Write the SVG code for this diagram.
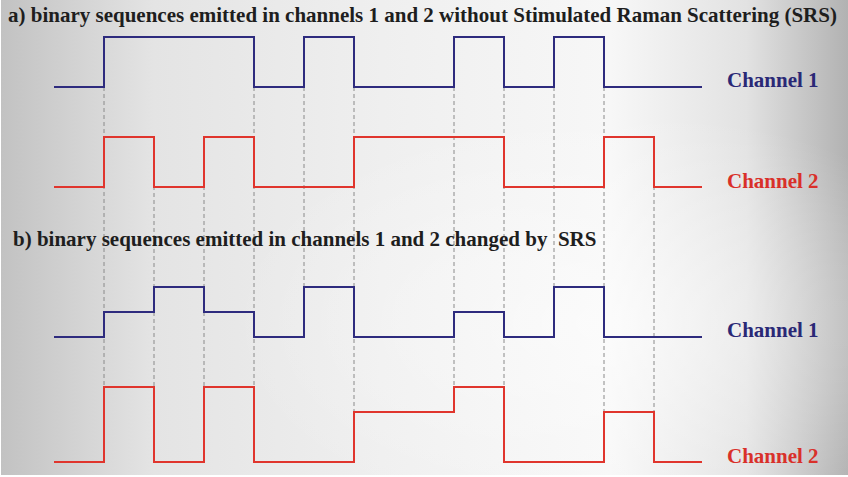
<svg xmlns="http://www.w3.org/2000/svg" width="848" height="477" viewBox="0 0 848 477">
  <defs>
    <linearGradient id="bg" x1="0" y1="0" x2="1" y2="0">
      <stop offset="0" stop-color="#c2c2c2"/>
      <stop offset="0.18" stop-color="#e4e4e4"/>
      <stop offset="0.45" stop-color="#efefef"/>
      <stop offset="0.72" stop-color="#f7f7f7"/>
      <stop offset="0.88" stop-color="#e2e2e2"/>
      <stop offset="1" stop-color="#b2b2b2"/>
    </linearGradient>
    <radialGradient id="glow" cx="0.72" cy="0.68" r="0.45">
      <stop offset="0" stop-color="#ffffff" stop-opacity="0.55"/>
      <stop offset="1" stop-color="#ffffff" stop-opacity="0"/>
    </radialGradient>
    <style>
      .title { font-family: "Liberation Serif", "Times New Roman", serif; font-weight: bold; font-size: 21px; fill: #1e1e1e; }
      .label { font-family: "Liberation Serif", "Times New Roman", serif; font-weight: bold; font-size: 21px; }
      .ch1 { fill: none; stroke: #2e2b7e; stroke-width: 2; }
      .ch2 { fill: none; stroke: #e0352d; stroke-width: 2; }
      .guide { stroke: #8a8a8a; stroke-width: 1; stroke-dasharray: 4 3; fill: none; }
      .lbl1 { fill: #2a2876; }
      .lbl2 { fill: #d9302a; }
    </style>
  </defs>

  <!-- background panel -->
  <rect x="0" y="0" width="848" height="477" fill="#ffffff"/>
  <rect x="1" y="0" width="847" height="475" fill="url(#bg)"/>
  <rect x="1" y="0" width="847" height="475" fill="url(#glow)"/>

  <!-- vertical timing guides at bit boundaries -->
  <g id="guides" class="guide">
    <line x1="104" y1="87" x2="104" y2="387"/>
    <line x1="154" y1="137" x2="154" y2="387"/>
    <line x1="204" y1="137" x2="204" y2="387"/>
    <line x1="254" y1="87" x2="254" y2="387"/>
    <line x1="304" y1="87" x2="304" y2="287"/>
    <line x1="354" y1="87" x2="354" y2="412"/>
    <line x1="454" y1="87" x2="454" y2="387"/>
    <line x1="504" y1="87" x2="504" y2="387"/>
    <line x1="554" y1="87" x2="554" y2="287"/>
    <line x1="604" y1="87" x2="604" y2="412"/>
    <line x1="654" y1="137" x2="654" y2="412"/>
  </g>

  <!-- a) sequences without SRS -->
  <text class="title" x="8" y="22">a) binary sequences emitted in channels 1 and 2 without Stimulated Raman Scattering (SRS)</text>
  <g id="a-channel1">
    <path class="ch1" d="M54,87 H104 V37 H254 V87 H304 V37 H354 V87 H454 V37 H504 V87 H554 V37 H604 V87 H702"/>
    <text class="label lbl1" x="727" y="87">Channel 1</text>
  </g>
  <g id="a-channel2">
    <path class="ch2" d="M54,187 H104 V137 H154 V187 H204 V137 H254 V187 H354 V137 H504 V187 H604 V137 H654 V187 H702"/>
    <text class="label lbl2" x="727" y="188">Channel 2</text>
  </g>

  <!-- b) sequences changed by SRS -->
  <text class="title" x="13" y="246" xml:space="preserve">b) binary sequences emitted in channels 1 and 2 changed by  SRS</text>
  <g id="b-channel1">
    <path class="ch1" d="M54,337 H104 V312 H154 V287 H204 V312 H254 V337 H304 V287 H354 V337 H454 V312 H504 V337 H554 V287 H604 V337 H702"/>
    <text class="label lbl1" x="727" y="337">Channel 1</text>
  </g>
  <g id="b-channel2">
    <path class="ch2" d="M54,462 H104 V387 H154 V462 H204 V387 H254 V462 H354 V412 H454 V387 H504 V462 H604 V412 H654 V462 H702"/>
    <text class="label lbl2" x="727" y="463">Channel 2</text>
  </g>
</svg>
